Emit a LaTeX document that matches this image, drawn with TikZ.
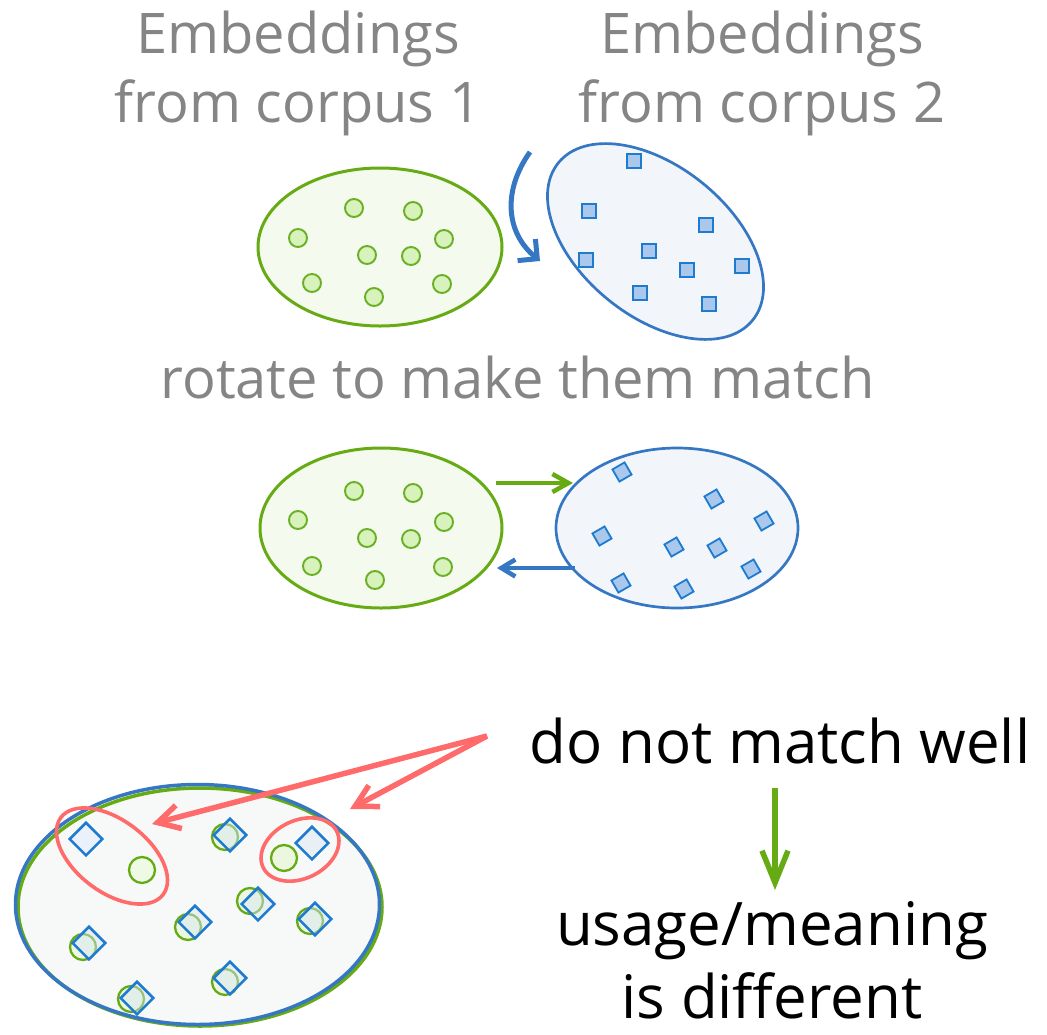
\documentclass[tikz,border=0pt]{standalone}
\usepackage{fontspec}
\setmainfont{Open Sans}
\usetikzlibrary{shapes.geometric,arrows.meta}
\definecolor{gline}{HTML}{66AA14}
\definecolor{gfill}{HTML}{F5FAEF}
\definecolor{gdot}{HTML}{D8F2BC}
\definecolor{gdotline}{HTML}{6AB024}
\definecolor{bline}{HTML}{3677C4}
\definecolor{bfill}{HTML}{F2F6FB}
\definecolor{bsq}{HTML}{AAC8EC}
\definecolor{bsqline}{HTML}{1F7BD0}
\definecolor{redc}{HTML}{FF6B6B}
\definecolor{graytext}{HTML}{858585}
\definecolor{bigfill}{HTML}{F6F9F7}
\tikzset{
  gell/.style={ellipse, draw=gline, fill=gfill, line width=3pt, inner sep=0pt},
  bell/.style={ellipse, draw=bline, fill=bfill, line width=2.7pt, inner sep=0pt},
  gdotst/.style={circle, draw=gdotline, fill=gdot, line width=1.9pt, minimum size=18pt, inner sep=0pt},
  bsqst/.style={rectangle, draw=bsqline, fill=bsq, line width=1.8pt, minimum size=14pt, inner sep=0pt},
  gtext/.style={text=graytext, font=\fontsize{56}{60}\selectfont, inner sep=0pt, anchor=base},
  btext/.style={text=black, font=\fontsize{60}{64}\selectfont, inner sep=0pt, anchor=base},
  redell/.style={ellipse, draw=redc, line width=3.6pt, inner sep=0pt},
  bcirc/.style={circle, draw=gline, fill=gdot!70!white, fill opacity=0.6, line width=2.3pt, minimum size=26pt, inner sep=0pt},
  bdia/.style={rectangle, rotate=45, draw=bsqline, fill=bsq!45!white, fill opacity=0.45, draw opacity=1, line width=2.5pt, minimum size=23pt, inner sep=0pt},
  redarrow/.style={draw=redc, line width=5.5pt, -{Straight Barb[length=22pt,width=24pt]}},
}
\begin{document}
\begin{tikzpicture}[x=1pt,y=-1pt]
\useasboundingbox (0,0) rectangle (1047,1034);

% titles
\node[gtext] (l1a) at (298,53) {Embeddings};
\node[gtext] (l1b) at (298,122) {from corpus 1};
\node[gtext] (l2a) at (762,53) {Embeddings};
\node[gtext] (l2b) at (762,122) {from corpus 2};

% top row
\node[gell, minimum width=244pt, minimum height=158pt] (e1) at (380,247) {};
\foreach \x/\y [count=\i] in {354/208,413/211,298/238,444/239,367/255,411/256,312/283,442/284,374/297}
  \node[gdotst] (ta\i) at (\x,\y) {};
\node[bell, minimum width=250pt, minimum height=150pt, rotate=-39] (e2) at (655.5,241.5) {};
\foreach \x/\y [count=\i] in {634/161,589/211,706/225,649/251,586/260,687/270,742/266,640/293,709/304}
  \node[bsqst] (tb\i) at (\x,\y) {};
\coordinate (rs) at (530,152);
\coordinate (re) at (540,261);
\draw[draw=bline, line width=5pt, -{Straight Barb[length=14pt,width=28pt]}] (rs) .. controls (503,190) and (505,232) .. (re);

\node[gtext] (rot) at (517.5,398) {rotate to make them match};

% middle row
\node[gell, minimum width=242pt, minimum height=160pt] (e3) at (381,528) {};
\foreach \x/\y [count=\i] in {354/491,413/493,298/520,444/522,367/538,411/539,312/566,443/567,375/580}
  \node[gdotst] (ma\i) at (\x,\y) {};
\node[bell, minimum width=242pt, minimum height=160pt] (e4) at (677,528) {};
\foreach \x/\y [count=\i] in {622/472,714/499,764/521,602/536,674/547,717/548,751/569,621/583,684/589}
  \node[bsqst, rotate=30] (mb\i) at (\x,\y) {};
\coordinate (ga) at (496,483);
\coordinate (gb) at (573,483);
\coordinate (ba) at (575,568);
\coordinate (bb) at (497,568);
\draw[draw=gline, line width=4.5pt, -{Straight Barb[length=16pt,width=18pt]}] (ga) -- (gb);
\draw[draw=bline, line width=4.5pt, -{Straight Barb[length=14pt,width=17pt]}] (ba) -- (bb);

% bottom
\node[ellipse, draw=gline, fill=bigfill, line width=3.5pt, minimum width=364pt, minimum height=238pt, inner sep=0pt] (e5) at (200,907) {};
\node[ellipse, draw=bline, line width=3.5pt, minimum width=364pt, minimum height=240pt, inner sep=0pt] (e6) at (197.5,904.5) {};

\node[bdia, fill=bsq!25!white, fill opacity=1] (d1) at (86,839) {};
\node[bcirc, fill=gdot!40!white, fill opacity=1] (c2) at (142,870) {};
\foreach \cx/\cy/\dx/\dy [count=\i] in {225/837/230/835,284/858/312/843,250/901/258/904,188/927/195/922,310/921/315/919,83/947/89/943,225/982/230/978,131/999/137/998}
{
  \node[bcirc] (pc\i) at (\cx,\cy) {};
  \node[bdia] (pd\i) at (\dx,\dy) {};
}
\node[redell, minimum width=128pt, minimum height=72pt, rotate=-37] (r1) at (112,856) {};
\node[redell, minimum width=82pt, minimum height=58pt, rotate=26] (r2) at (300,849.5) {};

\coordinate (rsrc) at (487,736);
\coordinate (rt1) at (152,824);
\coordinate (rt2) at (350,809);
\draw[redarrow] (rsrc) -- (rt1);
\draw[redarrow] (rsrc) -- (rt2);

\node[btext] (dn) at (780,763) {do not match well};
\node[btext] (us) at (772,945) {usage/meaning};
\node[btext] (isd) at (772,1018) {is different};
\coordinate (da) at (775,788);
\coordinate (db) at (775,890);
\draw[draw=gline, line width=5.5pt, -{Straight Barb[length=32pt,width=26pt]}] (da) -- (db);
\end{tikzpicture}
\end{document}
